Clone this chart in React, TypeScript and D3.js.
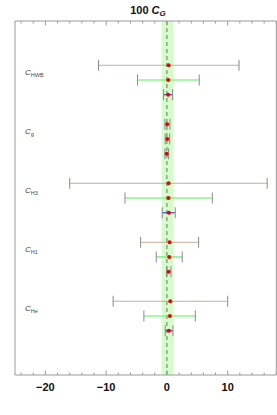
import * as d3 from "d3";
import React, { useRef, useEffect } from "react";

// operator labels (subscripts), top to bottom
const groups = ["HWB", "g", "H3", "H1", "He"];
// three fits per operator: central value, lower and upper end of the interval
const centers = [0.28, 0.22, 0.2, 0.05, 0.05, -0.05, 0.27, 0.27, 0.33, 0.44, 0.38, 0.27, 0.55, 0.49, 0.33];
const lows = [-11.25, -4.83, -0.55, -0.33, -0.28, -0.33, -16.0, -6.9, -0.77, -4.33, -1.76, -0.05, -8.85, -3.79, -0.28];
const highs = [11.86, 5.32, 0.93, 0.5, 0.45, 0.28, 16.5, 7.47, 1.37, 5.22, 2.52, 0.66, 10.0, 4.67, 0.99];
const band = [-0.87, 1.1];
const xTicks = [-20, -10, 0, 10];

export default function App() {
  const svgRef = useRef();

  useEffect(() => {
    const width = 277;
    const height = 415;
    const svg = d3.select(svgRef.current).attr("width", width).attr("height", height);
    svg.selectAll("*").remove();

    const x = d3.scaleLinear().domain([-25, 18]).range([15, 276.3]);
    const y = d3.scaleLinear().domain([-3, 21]).range([21, 375]);
    const top = y(-3);
    const bottom = y(21);
    const frameColor = "#9a9a9a";
    const barColors = ["#c9ab94", "#5cf05c", "#3848d0"];

    // band and zero line
    svg.append("rect")
      .attr("x", x(band[0])).attr("y", top)
      .attr("width", x(band[1]) - x(band[0])).attr("height", bottom - top)
      .style("fill", "#d6fccc");
    svg.append("line")
      .attr("x1", x(0)).attr("x2", x(0)).attr("y1", top).attr("y2", bottom)
      .style("stroke", "#6f6f6f").style("stroke-width", 1).style("stroke-dasharray", "4,3");

    // frame
    svg.append("path")
      .attr("d", `M${x(-25)},${top}H${x(18)}V${bottom}H${x(-25)}Z`)
      .style("fill", "none").style("stroke", frameColor).style("stroke-width", 1);

    // ticks top and bottom
    const minor = d3.range(-24, 18.1, 2);
    minor.forEach((t) => {
      const major = t % 10 === 0;
      const len = major ? 4.5 : 2.5;
      svg.append("line").attr("x1", x(t)).attr("x2", x(t)).attr("y1", top).attr("y2", top + len)
        .style("stroke", frameColor);
      svg.append("line").attr("x1", x(t)).attr("x2", x(t)).attr("y1", bottom).attr("y2", bottom - len)
        .style("stroke", frameColor);
    });

    svg.selectAll("text.tick")
      .data(xTicks)
      .enter()
      .append("text")
      .attr("class", "tick")
      .attr("x", (d) => x(d))
      .attr("y", 391)
      .attr("text-anchor", "middle")
      .style("font-family", "Liberation Sans, Arial, sans-serif")
      .style("font-weight", "bold")
      .style("font-size", "11px")
      .style("fill", "#111")
      .text((d) => (d < 0 ? "\u2212" + Math.abs(d) : String(d)));

    // title
    const title = svg.append("text")
      .attr("x", 148).attr("y", 14)
      .attr("text-anchor", "middle")
      .style("font-family", "Liberation Sans, Arial, sans-serif")
      .style("font-weight", "bold")
      .style("font-size", "11px")
      .style("fill", "#111");
    title.append("tspan").text("100 ");
    title.append("tspan").style("font-style", "italic").text("C");
    title.append("tspan").style("font-style", "italic").style("font-size", "8px").attr("dy", 2).text("G");

    // rows
    const rows = centers.map((c, i) => {
      const g = Math.floor(i / 3);
      return { c, lo: lows[i], hi: highs[i], k: i % 3, pos: g * 4 + (i % 3) };
    });

    rows.forEach((r) => {
      const yy = y(r.pos);
      svg.append("line")
        .attr("x1", x(r.lo)).attr("x2", x(r.hi)).attr("y1", yy).attr("y2", yy)
        .style("stroke", barColors[r.k]).style("stroke-width", 1.2);
      [r.lo, r.hi].forEach((v) => {
        svg.append("line")
          .attr("x1", x(v)).attr("x2", x(v)).attr("y1", yy - 5.5).attr("y2", yy + 5.5)
          .style("stroke", "#8a8a8a").style("stroke-width", 1);
      });
      svg.append("circle")
        .attr("cx", x(r.c)).attr("cy", yy).attr("r", 2)
        .style("fill", "#ee0000");
    });

    // operator labels
    groups.forEach((name, g) => {
      const t = svg.append("text")
        .attr("x", 25).attr("y", y(g * 4 + 0.45) + 3)
        .style("font-family", "Liberation Sans, Arial, sans-serif")
        .style("font-size", "8px")
        .style("fill", "#444");
      t.append("tspan").style("font-style", "italic").text("C");
      t.append("tspan").style("font-size", "5.5px").attr("dy", 2).text(name);
    });
  }, []);

  return (
    <svg ref={svgRef} style={{ position: "absolute", left: 0, top: 0, background: "#fff" }}></svg>
  );
}
